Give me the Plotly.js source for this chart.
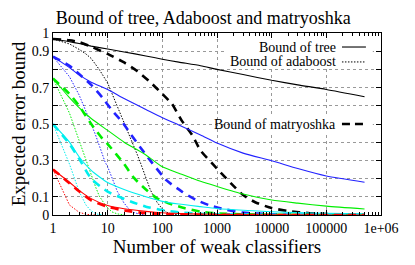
<!DOCTYPE html>
<html>
<head>
<meta charset="utf-8">
<script src="https://cdn.plot.ly/plotly-3.0.1.min.js"></script>
<style>html,body{margin:0;padding:0;background:#fff;}#chart{width:415px;height:265px;}</style>
</head>
<body>
<div id="chart"></div>
<script>
// ---- data ----
var chartTitle = 'Bound of tree, Adaboost and matryoshka';
var xTitle = 'Number of weak classifiers';
var yTitle = 'Expected error bound';
var legendNames = ['Bound of tree', 'Bound of adaboost', 'Bound of matryoshka'];
var seriesColors = ['#000000', '#2222ff', '#00ee00', '#00eeee', '#ff0000'];

// Bound of tree (solid)
var treeX = [1, 2, 3, 5, 10, 20, 50, 100, 200, 500, 1000, 3000, 10000, 30000, 100000, 500000];
var treeBlack = [0.967, 0.952, 0.942, 0.928, 0.912, 0.896, 0.874, 0.856, 0.84, 0.82, 0.80, 0.772, 0.74, 0.715, 0.69, 0.65];
var treeBlue  = [0.87, 0.81, 0.77, 0.73, 0.69, 0.64, 0.58, 0.535, 0.495, 0.44, 0.395, 0.34, 0.298, 0.255, 0.214, 0.18];
var treeGreen = [0.75, 0.645, 0.59, 0.53, 0.465, 0.40, 0.33, 0.265, 0.23, 0.185, 0.157, 0.115, 0.082, 0.065, 0.049, 0.033];
var treeCyan  = [0.5, 0.40, 0.32, 0.245, 0.178, 0.14, 0.1, 0.075, 0.06, 0.046, 0.036, 0.026, 0.018, 0.013, 0.009, 0.006];
var treeRed   = [0.25, 0.18, 0.135, 0.09, 0.052, 0.034, 0.02, 0.012, 0.008, 0.005, 0.003, 0.002, 0.001, 0.0005, 0.0003, 0.0001];

// Bound of adaboost (dotted)
var adaBlackX = [1, 2, 3, 4, 5, 7, 10, 15, 20, 25, 30, 35, 40, 50, 60, 70, 80, 100, 120, 150, 200];
var adaBlack  = [0.967, 0.94, 0.91, 0.885, 0.86, 0.8, 0.725, 0.6, 0.51, 0.44, 0.38, 0.33, 0.285, 0.2, 0.14, 0.1, 0.07, 0.033, 0.015, 0.005, 0.001];
var adaBlueX  = [1, 2, 3, 4, 5, 6, 7, 8, 9, 10, 12, 15, 20, 25, 30, 40, 50];
var adaBlue   = [0.87, 0.76, 0.66, 0.575, 0.5, 0.44, 0.385, 0.335, 0.29, 0.265, 0.2, 0.13, 0.065, 0.03, 0.014, 0.003, 0.001];
var adaGreenX = [1, 2, 3, 4, 5, 6, 7, 8, 9, 10, 12, 15, 20];
var adaGreen  = [0.75, 0.56, 0.41, 0.3, 0.22, 0.155, 0.105, 0.075, 0.055, 0.038, 0.017, 0.006, 0.001];
var adaCyanX  = [1, 2, 3, 4, 5, 6, 7, 8];
var adaCyan   = [0.5, 0.28, 0.13, 0.055, 0.022, 0.008, 0.002, 0.001];
var adaRedX   = [1, 2, 3, 4, 5, 6];
var adaRed    = [0.25, 0.055, 0.015, 0.004, 0.001, 0.0002];

// Bound of matryoshka (dashed)
var matBlackX = [1, 2, 3, 5, 7, 10, 20, 35, 60, 100, 150, 225, 350, 500, 1000, 2000, 3000, 5000, 10000, 20000, 50000, 100000, 200000, 500000];
var matBlack  = [0.967, 0.96, 0.95, 0.925, 0.905, 0.885, 0.838, 0.79, 0.73, 0.665, 0.61, 0.52, 0.44, 0.355, 0.255, 0.16, 0.11, 0.07, 0.038, 0.022, 0.01, 0.005, 0.003, 0.001];
var matBlueX  = [1, 2, 3, 5, 8, 12, 18, 27, 40, 60, 120, 225, 400, 700, 1200, 3000, 10000, 30000, 100000, 500000];
var matBlue   = [0.87, 0.82, 0.775, 0.715, 0.645, 0.575, 0.515, 0.44, 0.37, 0.30, 0.19, 0.13, 0.085, 0.055, 0.035, 0.013, 0.004, 0.0015, 0.0005, 0.0001];
var matGreenX = [1, 2, 3, 5, 8, 10, 20, 30, 50, 80, 130, 260, 500, 1000, 3000, 10000, 100000, 500000];
var matGreen  = [0.75, 0.665, 0.6, 0.5, 0.42, 0.39, 0.28, 0.205, 0.14, 0.092, 0.064, 0.037, 0.018, 0.009, 0.004, 0.0015, 0.0003, 0.0001];
var matCyanX  = [1, 2, 3, 5, 10, 15, 27, 50, 100, 200, 500, 1000, 10000, 100000, 500000];
var matCyan   = [0.5, 0.39, 0.31, 0.2, 0.128, 0.104, 0.073, 0.046, 0.027, 0.015, 0.007, 0.004, 0.001, 0.0003, 0.0001];
var matRedX   = [1, 2, 3, 5, 10, 20, 50, 100, 1000, 10000, 500000];
var matRed    = [0.25, 0.175, 0.13, 0.08, 0.045, 0.025, 0.01, 0.005, 0.001, 0.0002, 0.0001];

// axes ticks
var xTickVals = [1, 10, 100, 1000, 10000, 100000, 1000000];
var xTickText = ['1', '10', '100', '1000', '10000', '100000', '1e+06'];
var yTickVals = [0, 0.1, 0.2, 0.3, 0.4, 0.5, 0.6, 0.7, 0.8, 0.9, 1];
var yTickText = ['0', '0.1', '', '0.3', '', '0.5', '', '0.7', '', '0.9', '1'];

// ---- build traces ----
var serif = 'Liberation Serif, Times New Roman, serif';
var traces = [];
function add(x, y, color, kind) {
  var line = {color: color};
  if (kind === 'tree') { line.width = 1.1; line.shape = 'spline'; line.smoothing = 0.6; }
  if (kind === 'ada')  { line.width = 1; line.dash = '1.5px,1.5px'; }
  if (kind === 'mat')  { line.width = 2.6; line.dash = '8px,6px'; line.shape = 'spline'; line.smoothing = 0.6; }
  traces.push({x: x, y: y, type: 'scatter', mode: 'lines', line: line, showlegend: false, hoverinfo: 'skip'});
}
var treeY = [treeBlack, treeBlue, treeGreen, treeCyan, treeRed];
var adaXs = [adaBlackX, adaBlueX, adaGreenX, adaCyanX, adaRedX];
var adaYs = [adaBlack, adaBlue, adaGreen, adaCyan, adaRed];
var matXs = [matBlackX, matBlueX, matGreenX, matCyanX, matRedX];
var matYs = [matBlack, matBlue, matGreen, matCyan, matRed];
for (var i = 0; i < 5; i++) {
  add(treeX, treeY[i], seriesColors[i], 'tree');
  add(adaXs[i], adaYs[i], seriesColors[i], 'ada');
  add(matXs[i], matYs[i], seriesColors[i], 'mat');
}

// legend (gnuplot style: text on the left, sample on the right, opaque box)
var legY = [0.923, 0.841, 0.5];
var shapes = [
  {type: 'rect', xref: 'paper', yref: 'paper', x0: 0.527, x1: 0.975, y0: 0.808, y1: 0.965, fillcolor: '#fff', line: {width: 0}, layer: 'above'},
  {type: 'rect', xref: 'paper', yref: 'paper', x0: 0.552, x1: 0.975, y0: 0.456, y1: 0.544, fillcolor: '#fff', line: {width: 0}, layer: 'above'}
];
var annotations = [];
for (var k = 0; k < 3; k++) {
  var ln = {color: '#000', width: k === 2 ? 2.6 : 1.1};
  if (k === 1) { ln.dash = '1.5px,1.5px'; ln.width = 1; }
  if (k === 2) { ln.dash = '8px,5px'; }
  shapes.push({type: 'line', xref: 'paper', yref: 'paper', x0: 0.881, x1: 0.954, y0: legY[k], y1: legY[k], line: ln, layer: 'above'});
  annotations.push({xref: 'paper', yref: 'paper', x: 0.869, y: legY[k], xanchor: 'right', yanchor: 'middle',
    text: legendNames[k], showarrow: false, font: {family: serif, size: 14, color: '#000'}});
}

var layout = {
  width: 415, height: 265,
  margin: {l: 53, r: 34, t: 33, b: 50},
  paper_bgcolor: '#fff', plot_bgcolor: '#fff',
  title: {text: chartTitle, font: {family: serif, size: 18, color: '#000'}, x: 0.49, xref: 'container', y: 0.935, yanchor: 'middle'},
  font: {family: serif, color: '#000'},
  xaxis: {
    type: 'log', range: [0, 6], tickmode: 'array', tickvals: xTickVals, ticktext: xTickText,
    ticks: 'inside', ticklen: 5, tickcolor: '#000', showline: true, linecolor: '#000', linewidth: 1, mirror: 'ticks',
    showgrid: true, gridcolor: '#999', griddash: 'dot', gridwidth: 1, zeroline: false,
    tickfont: {family: serif, size: 14, color: '#000'},
    minor: {ticks: 'inside', ticklen: 3, tickcolor: '#000', showgrid: false, dtick: 'D1'},
    title: {text: xTitle, font: {family: serif, size: 19, color: '#000'}, standoff: 3}
  },
  yaxis: {
    range: [0, 1], tickmode: 'array', tickvals: yTickVals, ticktext: yTickText,
    ticks: 'inside', ticklen: 5, tickcolor: '#000', showline: true, linecolor: '#000', linewidth: 1, mirror: 'ticks',
    showgrid: true, gridcolor: '#999', griddash: 'dot', gridwidth: 1, zeroline: false,
    tickfont: {family: serif, size: 14, color: '#000'},
    title: {text: yTitle, font: {family: serif, size: 19, color: '#000'}, standoff: 1}
  },
  shapes: shapes,
  annotations: annotations
};

Plotly.newPlot('chart', traces, layout, {staticPlot: true, displayModeBar: false});
</script>
</body>
</html>
